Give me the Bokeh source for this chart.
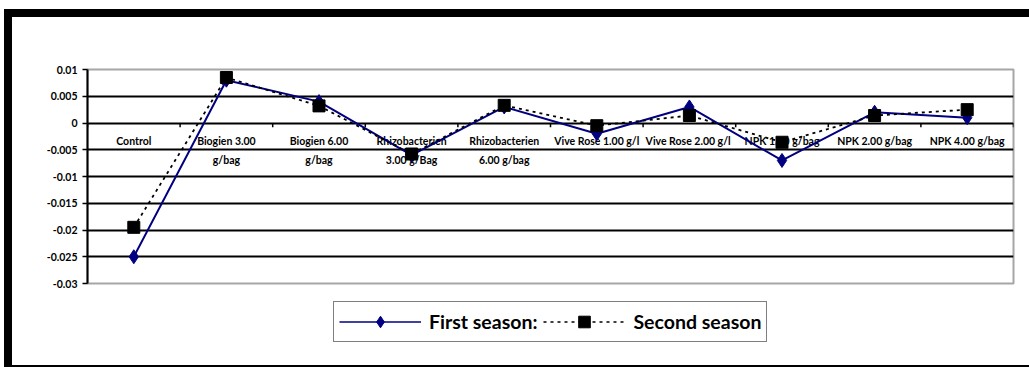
from bokeh.plotting import figure
from bokeh.models import (FactorRange, Legend, LegendItem, FixedTicker, CustomJSTickFormatter,
                          ColumnDataSource, Spacer)
from bokeh.layouts import row, column
from bokeh.transform import dodge
from bokeh.core.properties import value
from bokeh.embed import file_html
from bokeh.resources import INLINE

categories = ["Control", "Biogien 3.00 g/bag", "Biogien 6.00 g/bag", "Rhizobacterien 3.00 g/Bag",
              "Rhizobacterien 6.00 g/bag", "Vive Rose 1.00 g/l", "Vive Rose  2.00 g/l",
              "NPK 1.00 g/bag", "NPK 2.00 g/bag", "NPK 4.00 g/bag"]
tick_labels = ["Control", "Biogien 3.00\ng/bag", "Biogien 6.00\ng/bag", "Rhizobacterien\n3.00 g/Bag",
               "Rhizobacterien\n6.00 g/bag", "Vive Rose 1.00 g/l", "Vive Rose  2.00 g/l",
               "NPK 1.00 g/bag", "NPK 2.00 g/bag", "NPK 4.00 g/bag"]
first_season = [-0.025, 0.008, 0.004, -0.006, 0.003, -0.002, 0.003, -0.007, 0.002, 0.001]
second_season = [-0.0195, 0.0085, 0.0032, -0.0058, 0.0033, -0.0005, 0.0014, -0.0036, 0.0014, 0.0025]
y_ticks = [-0.03, -0.025, -0.02, -0.015, -0.01, -0.005, 0, 0.005, 0.01]
series_names = ["First season:", "Second season"]

FONT = "Lato"
NAVY = "#000080"

# ---------------- main chart ----------------
p = figure(width=1017, height=276, x_range=FactorRange(factors=categories), y_range=(-0.03, 0.01),
           output_backend="svg", toolbar_location=None,
           min_border_left=75, min_border_right=16, min_border_top=52, min_border_bottom=10)

p.background_fill_color = "white"
p.border_fill_color = "white"
p.outline_line_color = "#a6a6a6"
p.outline_line_width = 2

p.xaxis.visible = False
p.xgrid.visible = False

p.yaxis.ticker = FixedTicker(ticks=y_ticks)
p.yaxis.formatter = CustomJSTickFormatter(code="return String(Number(tick.toFixed(4)));")
p.yaxis.major_label_text_font = FONT
p.yaxis.major_label_text_font_style = "bold"
p.yaxis.major_label_text_font_size = "10.5px"
p.yaxis.major_label_text_color = "black"
p.yaxis.axis_line_color = "black"
p.yaxis.axis_line_width = 2
p.yaxis.major_tick_line_color = "black"
p.yaxis.major_tick_line_width = 1.5
p.yaxis.major_tick_out = 5
p.yaxis.major_tick_in = 0
p.yaxis.minor_tick_line_color = None
p.yaxis.major_label_standoff = 5

p.ygrid.grid_line_color = "black"
p.ygrid.grid_line_width = 2

src = ColumnDataSource(dict(x=categories, first=first_season, second=second_season, lab=tick_labels,
                            zero=[0] * len(categories), tick_end=[-0.0008] * len(categories)))

# category axis labels along the zero line
p.text(x="x", y="zero", text="lab", source=src, text_font=value(FONT), text_font_style="bold",
       text_font_size="10.5px", text_align="center", text_baseline="top", y_offset=12,
       text_line_height=1.6, text_color="black")

# category boundary tick marks
p.segment(x0=dodge("x", -0.5, range=p.x_range), y0="zero", x1=dodge("x", -0.5, range=p.x_range),
          y1="tick_end", source=src, line_color="black", line_width=1.5)
p.segment(x0=dodge("x", 0.5, range=p.x_range), y0="zero", x1=dodge("x", 0.5, range=p.x_range),
          y1="tick_end", source=ColumnDataSource(dict(x=[categories[-1]], zero=[0], tick_end=[-0.0008])),
          line_color="black", line_width=1.5)

p.line(x="x", y="first", source=src, line_color=NAVY, line_width=2)
p.scatter(x="x", y="first", source=src, marker="diamond", size=14, fill_color=NAVY, line_color=NAVY)
p.line(x="x", y="second", source=src, line_color="black", line_width=1.8, line_dash="3 4")
p.scatter(x="x", y="second", source=src, marker="square", size=12, fill_color="black", line_color="black")

# ---------------- legend strip ----------------
lf = figure(width=1017, height=72, x_range=(0, 1), y_range=(0, 1), output_backend="svg",
            toolbar_location=None, min_border=0)
lf.axis.visible = False
lf.grid.visible = False
lf.outline_line_color = None
lf.background_fill_color = "white"
lf.border_fill_color = "white"
blank = ColumnDataSource(dict(x=[float("nan")], y=[float("nan")]))
el1 = lf.line(x="x", y="y", source=blank, line_color=NAVY, line_width=1.5)
es1 = lf.scatter(x="x", y="y", source=blank, marker="diamond", size=14, fill_color=NAVY, line_color=NAVY)
el2 = lf.line(x="x", y="y", source=blank, line_color="black", line_width=1.3, line_dash="3 4")
es2 = lf.scatter(x="x", y="y", source=blank, marker="square", size=12, fill_color="black", line_color="black")

legend = Legend(items=[LegendItem(label=series_names[0], renderers=[el1, es1], index=0),
                       LegendItem(label=series_names[1], renderers=[el2, es2], index=0)],
                orientation="horizontal", location=(246, 23),
                glyph_width=82, glyph_height=29, label_standoff=8, spacing=6, padding=5, margin=0,
                label_text_font=FONT, label_text_font_style="bold", label_text_font_size="19.5px",
                label_text_color="black", border_line_color="black", border_line_width=1.5,
                background_fill_color="white", background_fill_alpha=1)
lf.add_layout(legend, "center")

black = {"background-color": "black"}
layout = row(
    Spacer(width=4, height=367),
    column(
        Spacer(width=1025, height=9),
        Spacer(width=1025, height=8, styles=black),
        row(Spacer(width=8, height=348, styles=black), column(p, lf)),
        Spacer(width=1025, height=2, styles=black),
    ),
)

open("out.html", "w").write(file_html(layout, INLINE))
